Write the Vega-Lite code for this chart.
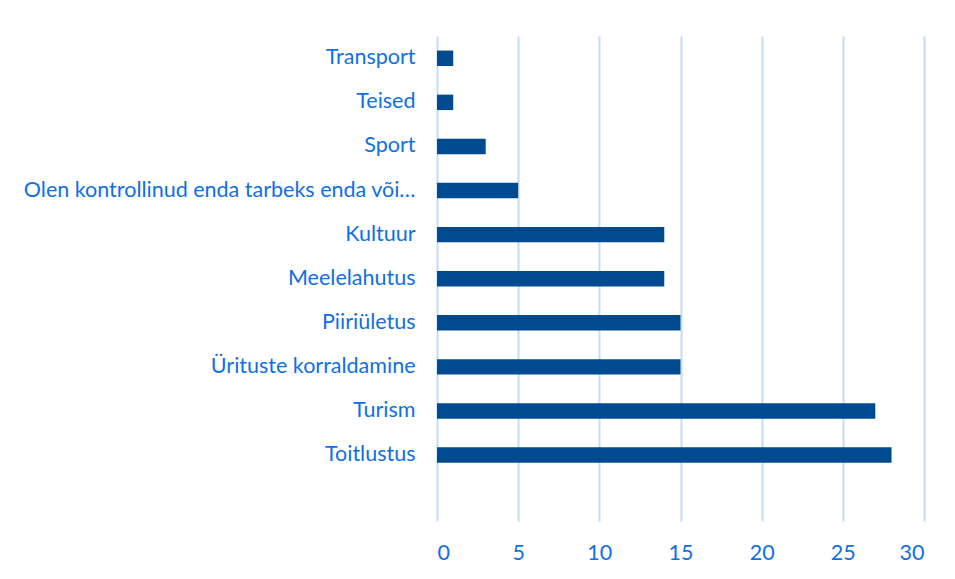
{
  "$schema": "https://vega.github.io/schema/vega-lite/v6.json",
  "width": 487,
  "height": 485,
  "autosize": {"type": "none"},
  "padding": {"left": 437, "top": 36, "right": 31, "bottom": 58},
  "background": "white",
  "config": {"view": {"stroke": null}},
  "data": {
    "values": [
      {"kategooria": "Transport", "arv": 1},
      {"kategooria": "Teised", "arv": 1},
      {"kategooria": "Sport", "arv": 3},
      {"kategooria": "Olen kontrollinud enda tarbeks enda või…", "arv": 5},
      {"kategooria": "Kultuur", "arv": 14},
      {"kategooria": "Meelelahutus", "arv": 14},
      {"kategooria": "Piiriületus", "arv": 15},
      {"kategooria": "Ürituste korraldamine", "arv": 15},
      {"kategooria": "Turism", "arv": 27},
      {"kategooria": "Toitlustus", "arv": 28}
    ]
  },
  "mark": {"type": "bar", "color": "#004b8f"},
  "encoding": {
    "y": {
      "field": "kategooria",
      "type": "nominal",
      "sort": null,
      "title": null,
      "scale": {"paddingInner": 0.65, "paddingOuter": 0.825, "align": 0.2},
      "axis": {
        "domain": false,
        "ticks": false,
        "grid": false,
        "labelFont": "Lato",
        "labelFontSize": 21.5,
        "labelColor": "#0f6fe6",
        "labelPadding": 22,
        "labelLimit": 0
      }
    },
    "x": {
      "field": "arv",
      "type": "quantitative",
      "title": null,
      "scale": {"domain": [0, 30], "nice": false},
      "axis": {
        "values": [0, 5, 10, 15, 20, 25, 30],
        "domain": false,
        "ticks": false,
        "grid": true,
        "gridColor": "#c3dbf7",
        "gridWidth": 2,
        "labelFont": "Lato",
        "labelFontSize": 21.5,
        "labelColor": "#0f6fe6",
        "labelPadding": 21
      }
    }
  }
}
